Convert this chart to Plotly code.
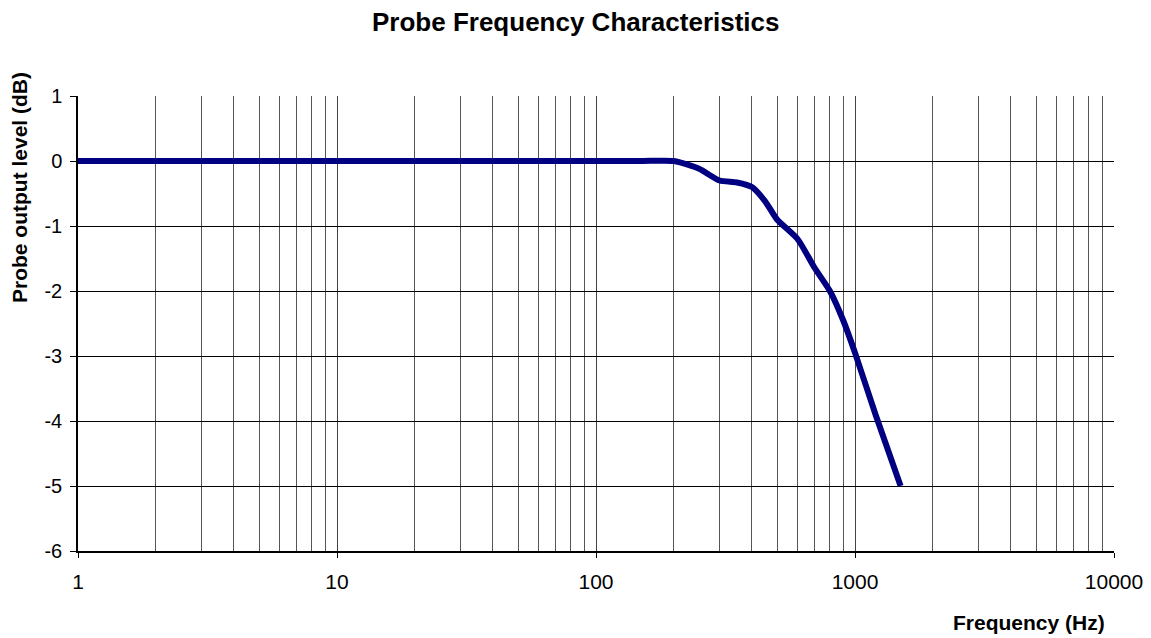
import plotly.graph_objects as go

freq_hz = [1, 10, 100, 150, 200, 250, 300, 350, 400, 450, 500, 600, 700, 800, 900, 1000, 1200, 1500]
level_db = [0, 0, 0, 0, 0, -0.12, -0.3, -0.33, -0.4, -0.62, -0.9, -1.2, -1.65, -2.0, -2.45, -2.95, -3.9, -5.0]

major_ticks = [1, 10, 100, 1000, 10000]
major_labels = ["1", "10", "100", "1000", "10000"]
minor_ticks = [m * d for d in [1, 10, 100, 1000] for m in range(2, 10)]
y_ticks = [1, 0, -1, -2, -3, -4, -5, -6]
y_labels = ["1", "0", "-1", "-2", "-3", "-4", "-5", "-6"]

FONT = "Liberation Sans, Arial, sans-serif"
W, H = 1151, 638
L, R, T, B = 78, 37, 96, 87
PW, PH = W - L - R, H - T - B


def px_to_paper(px, py):
    return (px - L) / PW, 1 - (py - T) / PH


fig = go.Figure()
fig.add_trace(go.Scatter(
    x=freq_hz, y=level_db, mode="lines",
    line=dict(color="#000080", width=6, shape="spline", smoothing=0.6),
    showlegend=False,
))

fig.update_layout(
    width=W, height=H,
    paper_bgcolor="white", plot_bgcolor="white",
    margin=dict(l=L, r=R, t=T, b=B, autoexpand=False),
    font=dict(family=FONT, size=20, color="black"),
    xaxis=dict(
        type="log", range=[0, 4],
        tickvals=major_ticks, ticktext=major_labels,
        ticks="outside", ticklen=5, tickcolor="black", tickwidth=1,
        ticklabelstandoff=6,
        showgrid=True, gridcolor="#444444", gridwidth=1,
        minor=dict(tickvals=minor_ticks, showgrid=True, gridcolor="#555555", gridwidth=1, ticks=""),
        showline=True, linecolor="black", linewidth=1.5,
        zeroline=False,
        tickfont=dict(size=21),
    ),
    yaxis=dict(
        range=[-6, 1], tickvals=y_ticks, ticktext=y_labels,
        ticks="outside", ticklen=6, tickcolor="black", tickwidth=1,
        ticklabelstandoff=4,
        showgrid=True, gridcolor="black", gridwidth=1,
        showline=True, linecolor="black", linewidth=1.5,
        zeroline=False,
        tickfont=dict(size=20),
    ),
)

for text, px, py, angle, size in [
    ("<b>Probe Frequency Characteristics</b>", 576, 22, 0, 26),
    ("<b>Frequency (Hz)</b>", 1029, 622, 0, 21),
    ("<b>Probe output level (dB)</b>", 20, 188, -90, 21),
]:
    x, y = px_to_paper(px, py)
    fig.add_annotation(text=text, x=x, y=y, xref="paper", yref="paper",
                       xanchor="center", yanchor="middle", textangle=angle,
                       showarrow=False, font=dict(size=size, family=FONT))

fig.write_html("out.html", config={"displayModeBar": False})

with open("out.html", "r", encoding="utf-8") as f:
    html = f.read()
html = html.replace("<body>", '<body style="margin:0;overflow:hidden">', 1)
with open("out.html", "w", encoding="utf-8") as f:
    f.write(html)
